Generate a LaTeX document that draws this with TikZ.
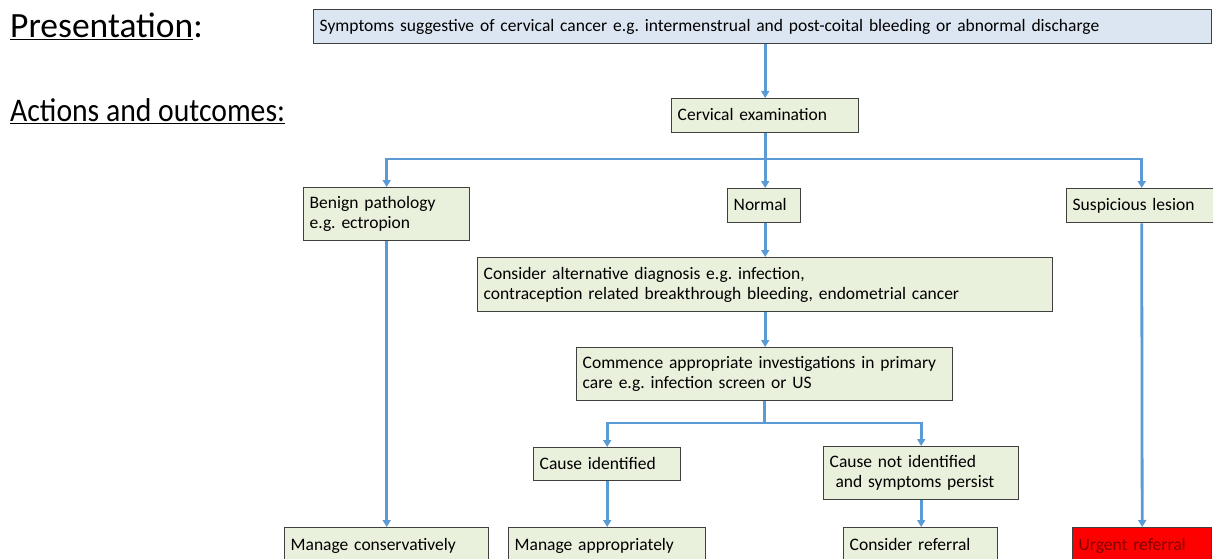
\documentclass[tikz,border=0pt]{standalone}
\usepackage{fontspec}
\setmainfont{Carlito}
\usetikzlibrary{arrows.meta}
\definecolor{arrblue}{RGB}{91,155,213}
\definecolor{boxgreen}{RGB}{233,240,220}
\definecolor{boxblue}{RGB}{220,230,242}
\definecolor{boxline}{RGB}{64,64,64}
\definecolor{urgred}{RGB}{255,0,0}
\definecolor{urgtext}{RGB}{130,0,0}
\frenchspacing
\tikzset{
  box/.style={draw=boxline, line width=1.4pt, fill=boxgreen, anchor=north west,
    inner xsep=6pt, inner ysep=0pt, align=left,
    font=\fontsize{17.5}{20}\selectfont},
  oneline/.style={text height=13.5pt, text depth=3pt},
  arr/.style={draw=arrblue, line width=2.8pt,
    -{Triangle[width=8pt,length=7pt]}},
  heading/.style={anchor=west, inner sep=0pt}
}
\begin{document}
\begin{tikzpicture}[x=1pt,y=-1pt]
\useasboundingbox (0,0) rectangle (1213,559);
\clip (0,0) rectangle (1213,559);
% headings
\node[heading, font=\fontsize{35.5}{40}\selectfont] (pres) at (10,26) {\underline{Presentation}:};
\node[heading, font=\fontsize{33}{40}\selectfont] (act) at (10,111) {\scalebox{0.9}[1]{\underline{Actions and outcomes:}}};
% boxes
\node[box, oneline, fill=boxblue, minimum width=898pt, minimum height=34pt, text width=886pt] (top) at (313,9) {Symptoms suggestive of cervical cancer e.g. intermenstrual and post-coital bleeding or abnormal discharge};
\node[box, oneline, minimum width=187pt, minimum height=34pt, text width=175pt] (cerv) at (671,98) {Cervical examination};
\node[box, minimum width=166pt, minimum height=53pt, text width=154pt] (benign) at (303,187) {Benign pathology\\e.g. ectropion};
\node[box, oneline, minimum width=73pt, minimum height=34pt, text width=61pt] (normal) at (727,188) {Normal};
\node[box, oneline, minimum width=150pt, minimum height=34pt, text width=138pt] (susp) at (1066,188) {Suspicious lesion};
\node[box, minimum width=575pt, minimum height=54pt, text width=563pt] (alt) at (477,257) {Consider alternative diagnosis e.g. infection,\\contraception related breakthrough bleeding, endometrial cancer};
\node[box, minimum width=376pt, minimum height=53pt, text width=364pt] (comm) at (576,347) {Commence appropriate investigations in primary\\care e.g. infection screen or US};
\node[box, oneline, minimum width=147pt, minimum height=33pt, text width=135pt] (cid) at (533,447) {Cause identified};
\node[box, minimum width=195pt, minimum height=53pt, text width=183pt] (cnot) at (823,446) {Cause not identified\\\ and symptoms persist};
\node[box, oneline, minimum width=204pt, minimum height=35pt, text width=192pt] (mcons) at (284,527) {Manage conservatively};
\node[box, oneline, minimum width=197pt, minimum height=35pt, text width=185pt] (mapp) at (508,527) {Manage appropriately};
\node[box, oneline, minimum width=154pt, minimum height=35pt, text width=142pt] (cref) at (843,527) {Consider referral};
\node[box, oneline, fill=urgred, text=urgtext, minimum width=139pt, minimum height=35pt, text width=127pt] (urg) at (1072,527) {Urgent referral};
% connectors
\coordinate (b1) at (cerv.south |- 0,159);
\coordinate (b2) at (comm.south |- 0,423);
\draw[arr] (cerv.north |- top.south) -- (cerv.north);
\draw[arr] (cerv.south) -- (cerv.south |- normal.north);
\draw[arr] (b1) -| (benign.north);
\draw[arr] (b1) -| (susp.north);
\draw[arr] (cerv.south |- normal.south) -- (cerv.south |- alt.north);
\draw[arr] (cerv.south |- alt.south) -- (cerv.south |- comm.north);
\draw[arr] (comm.south) -- (b2) -| (cid.north);
\draw[arr] (b2) -| (cnot.north);
\draw[arr] (benign.south) -- (mcons.north);
\draw[arr] (cid.south) -- (mapp.north);
\draw[arr] (cnot.south) -- (cnot.south |- cref.north);
\draw[arr] (susp.south) -- (urg.north);
\end{tikzpicture}
\end{document}
